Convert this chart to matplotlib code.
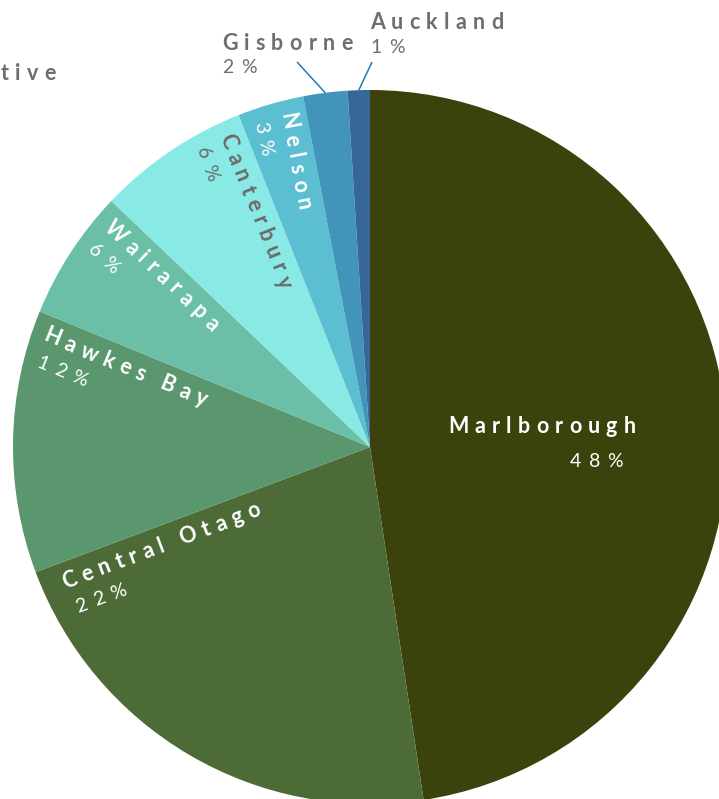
import numpy as np
import matplotlib
matplotlib.use("Agg")
import matplotlib.pyplot as plt
from matplotlib.font_manager import FontProperties, findfont
from matplotlib.ft2font import FT2Font
try:
    from matplotlib.ft2font import LoadFlags
    NO_HINT = LoadFlags.NO_HINTING
except Exception:
    from matplotlib.ft2font import LOAD_NO_HINTING as NO_HINT

# ---------------- data ----------------
regions = ["Marlborough", "Central Otago", "Hawkes Bay", "Wairarapa",
           "Canterbury", "Nelson", "Gisborne", "Auckland"]
shares = [47.6, 21.7, 11.9, 5.9, 6.9, 3.0, 2.0, 1.0]
pct_labels = ["48%", "22%", "12%", "6%", "6%", "3%", "2%", "1%"]
colors = ["#3c420b", "#4d6b37", "#5a976e", "#6bbfa7",
          "#89e9e5", "#5bbfd1", "#4294bb", "#36669a"]
text_colors = ["white", "white", "white", "white",
               "#6b6b6b", "white", "#6b6b6b", "#6b6b6b"]

# ---------------- layout ----------------
W, H, DPI = 719, 799, 100
CX, CY, R = 370, 799 - 447, 357
GREY = "#6e6e6e"
LEADER = "#1b7fb3"

fig = plt.figure(figsize=(W / DPI, H / DPI), dpi=DPI)
ax = fig.add_axes([0, 0, 1, 1])

wedges, _ = ax.pie(shares, colors=colors, startangle=90, counterclock=False,
                   radius=R, center=(CX, CY),
                   wedgeprops=dict(linewidth=0))
ax.set_xlim(0, W)
ax.set_ylim(0, H)
ax.set_aspect("auto")
ax.axis("off")

FAM = ["Lato", "DejaVu Sans"]
fp_name = FontProperties(family=FAM, weight="bold", size=15.5)
fp_pct = FontProperties(family=FAM, weight="normal", size=14)


def advances(s, fp):
    f = FT2Font(findfont(fp))
    f.set_size(fp.get_size_in_points(), DPI)
    return [f.load_char(ord(ch), flags=NO_HINT).linearHoriAdvance / 65536.0
            for ch in s]


def spaced(x, y, s, rot, fp, color, track_em=0.29):
    adv = advances(s, fp)
    track = track_em * fp.get_size_in_points() * DPI / 72.0
    c, si = np.cos(np.radians(rot)), np.sin(np.radians(rot))
    pos = 0.0
    for ch, a in zip(s, adv):
        if ch != " ":
            ax.text(x + pos * c, y + pos * si, ch, rotation=rot,
                    rotation_mode="anchor", ha="left", va="baseline",
                    fontproperties=fp, color=color)
        pos += a + track


# Marlborough: horizontal label
spaced(CX + 78, CY + 14, regions[0], 0, fp_name, text_colors[0])
spaced(CX + 200, CY - 20, pct_labels[0], 0, fp_pct, text_colors[0], 0.38)

# slices 1..5: labels along the clockwise-end boundary, reading inward
insets = {1: 22}
for i in range(1, 6):
    th = np.radians(wedges[i].theta1)
    e = np.array([np.cos(th), np.sin(th)])
    n = np.array([-np.sin(th), np.cos(th)])
    rot = np.degrees(th) + 180
    rot = (rot + 180) % 360 - 180
    ins = insets.get(i, 13)
    p_name = np.array([CX, CY]) + (R - ins) * e + 26 * n
    p_pct = np.array([CX, CY]) + (R - ins - 4) * e + 53 * n
    spaced(p_name[0], p_name[1], regions[i], rot, fp_name, text_colors[i])
    spaced(p_pct[0], p_pct[1], pct_labels[i], rot, fp_pct, text_colors[i], 0.38)

# outside labels with leader lines
outside = {6: ((222, H - 50), (222, H - 73), (297, H - 62)),
           7: ((370, H - 29), (370, H - 53), (372, H - 62))}
for i, (pn, pp, lp) in outside.items():
    spaced(pn[0], pn[1], regions[i], 0, fp_name, GREY)
    spaced(pp[0], pp[1], pct_labels[i], 0, fp_pct, GREY, 0.38)
    mid = np.radians((wedges[i].theta1 + wedges[i].theta2) / 2)
    ax.plot([lp[0], CX + R * np.cos(mid)], [lp[1], CY + R * np.sin(mid)],
            color=LEADER, lw=1.1, solid_capstyle="butt")

# clipped title fragment at top-left
spaced(1, H - 80, "tive", 0, fp_name, GREY)

fig.savefig("out.png", dpi=DPI)
